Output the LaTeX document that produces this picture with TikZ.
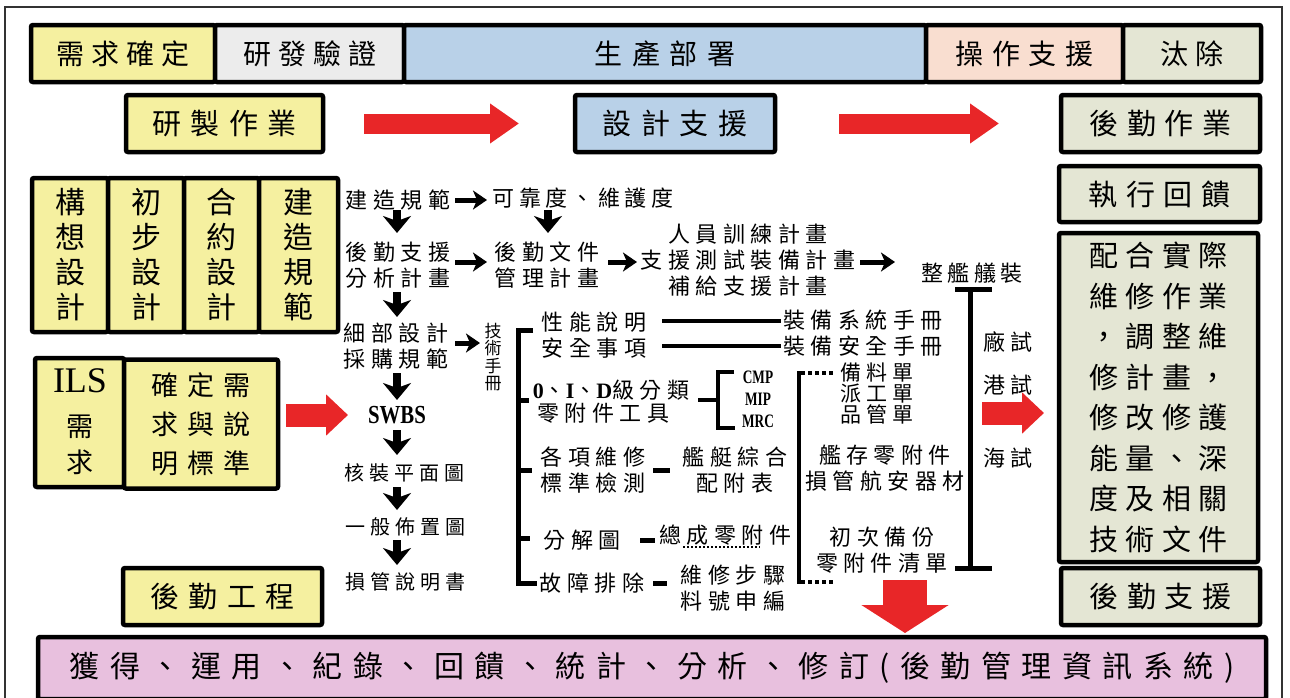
\documentclass[tikz,border=0pt]{standalone}
\usepackage{fontspec}
\usepackage{graphicx}
\setmainfont{Liberation Serif}
\newfontfamily\cjk{Noto Sans CJK TC}
\newfontfamily\lser{Liberation Serif}
\usetikzlibrary{arrows.meta}
\definecolor{cyel}{RGB}{245,240,160}
\definecolor{cgry}{RGB}{236,236,236}
\definecolor{cblu}{RGB}{185,209,232}
\definecolor{cpch}{RGB}{249,222,208}
\definecolor{cgrn}{RGB}{228,230,212}
\definecolor{cpnk}{RGB}{232,192,222}
\definecolor{cred}{RGB}{232,38,40}
\newcommand\cjf[3]{\fontsize{#1}{#2}\cjk\addfontfeature{LetterSpace=#3}}
\begin{document}
\begin{tikzpicture}[x=1pt,y=-1pt,
  box/.style={draw=black, line width=4.5pt, rounded corners=2pt, inner sep=0pt, outer sep=0pt, align=center},
  tn/.style={inner sep=0pt, outer sep=0pt, align=center},
  mid/.style={tn, font=\cjf{22}{26}{25}},
  sml/.style={tn, font=\cjf{20}{20}{25}},
  dar/.style={line width=8pt, -{Stealth[length=17pt,width=28pt,inset=5pt]}},
  harr/.style={line width=5pt, -{Stealth[length=14pt,width=19pt,inset=4pt]}},
  thk/.style={line width=4.5pt},
  redA/.style={cred, line width=20pt, -{Triangle[length=29pt,width=38pt]}},
  redB/.style={cred, line width=23pt, -{Triangle[length=22pt,width=40pt]}},
  redC/.style={cred, line width=44pt, -{Triangle[length=28pt,width=86pt]}}
]
\useasboundingbox (0,0) rectangle (1290,697);
\fill[white] (0,0) rectangle (1290,697);
\draw[line width=2pt, black!80] (5,7) rectangle (1282,720);

% top bar
\node[box, fill=cyel, minimum width=184pt, minimum height=57pt, font=\cjf{28}{28}{25}] (b1) at (123,53.5) {需求確定};
\node[box, fill=cgry, minimum width=189pt, minimum height=57pt, font=\cjf{28}{28}{25}] (b2) at (309.5,53.5) {研發驗證};
\node[box, fill=cblu, minimum width=522pt, minimum height=57pt, font=\cjf{28}{28}{35}] (b3) at (665,53.5) {生產部署};
\node[box, fill=cpch, minimum width=197pt, minimum height=57pt, font=\cjf{28}{28}{30}] (b4) at (1024.5,53.5) {操作支援};
\node[box, fill=cgrn, minimum width=138pt, minimum height=57pt, font=\cjf{28}{28}{25}] (b5) at (1192,53.5) {汰除};

% second row
\node[box, fill=cyel, minimum width=197pt, minimum height=57pt, font=\cjf{29}{29}{33}] (yz) at (224.5,123.5) {研製作業};
\node[box, fill=cblu, minimum width=200pt, minimum height=57pt, font=\cjf{29}{29}{33}] (sj) at (675,123.5) {設計支援};
\node[box, fill=cgrn, minimum width=199pt, minimum height=57pt, font=\cjf{29}{29}{30}] (hq) at (1160.5,123.5) {後勤作業};
\node[box, fill=cgrn, minimum width=201pt, minimum height=56pt, font=\cjf{29}{29}{30}] (zx) at (1159.5,194) {執行回饋};
\node[box, fill=cgrn, minimum width=199pt, minimum height=329pt, font=\cjf{29}{40.5}{25}] (ph) at (1158.5,397.5) {配合實際\\維修作業\\，調整維\\修計畫，\\修改修護\\能量、深\\度及相關\\技術文件};
\node[box, fill=cgrn, minimum width=199pt, minimum height=57pt, font=\cjf{29}{29}{30}] (hz) at (1160.5,596.5) {後勤支援};

% left boxes
\node[box, fill=cyel, minimum width=76pt, minimum height=154pt, font=\cjf{30}{35}{0}] (v1) at (70,255) {構\\想\\設\\計};
\node[box, fill=cyel, minimum width=76pt, minimum height=154pt, font=\cjf{30}{35}{0}] (v2) at (146,255) {初\\步\\設\\計};
\node[box, fill=cyel, minimum width=75pt, minimum height=154pt, font=\cjf{30}{35}{0}] (v3) at (221.5,255) {合\\約\\設\\計};
\node[box, fill=cyel, minimum width=79pt, minimum height=154pt, font=\cjf{30}{35}{0}] (v4) at (298.5,255) {建\\造\\規\\範};
\node[box, fill=cyel, minimum width=89pt, minimum height=129pt] (ils) at (79.5,422.5) {};
\node[tn, font=\fontsize{36}{36}\lser] (ilsA) at (80,381) {ILS};
\node[tn, font=\cjf{27}{36}{0}] (ilsB) at (80,445) {需\\求};
\node[box, fill=cyel, minimum width=154pt, minimum height=129pt, font=\cjf{27}{39}{33}] (qd) at (201,424) {確定需\\求與說\\明標準};
\node[box, fill=cyel, minimum width=199pt, minimum height=57pt, font=\cjf{29}{29}{33}] (hg) at (222.5,596.5) {後勤工程};
\node[box, fill=cpnk, minimum width=1228pt, minimum height=62pt, font=\cjf{30}{30}{35}] (pk) at (652,668) {獲得、運用、紀錄、回饋、統計、分析、修訂(後勤管理資訊系統)};

% middle texts
\node[mid] (t1) at (398,200) {建造規範};
\node[mid] (t2) at (398,265) {後勤支援\\分析計畫};
\node[mid] (t3) at (396,346) {細部設計\\採購規範};
\node[tn] (t4) at (397,415) {\scalebox{0.8}[1]{\fontsize{26}{26}\lser\bfseries SWBS}};
\node[sml] (t5) at (404,473) {核裝平面圖};
\node[sml] (t6) at (405,527) {一般佈置圖};
\node[sml] (t7) at (405,582) {損管說明書};
\node[tn, font=\cjf{22}{26}{20}] (t8) at (583,198) {可靠度、維護度};
\node[mid] (t9) at (547,265) {後勤文件\\管理計畫};
\node[mid] (t10) at (748,260) {人員訓練計畫\\支援測試裝備計畫\\補給支援計畫};
\node[tn, font=\cjf{22}{26}{20}] (t11) at (972,273) {整艦艤裝};
\node[tn, font=\cjf{17}{17.5}{0}] (t12) at (493,357) {技\\術\\手\\冊};
\node[mid] (t13) at (594,322) {性能說明};
\node[mid] (t14) at (594,348) {安全事項};
\node[mid] (t15) at (863,320) {裝備系統手冊};
\node[mid] (t16) at (863,346) {裝備安全手冊};
\node[mid] (t17) at (611,390) {{\lser\bfseries 0}、{\lser\bfseries I}、{\lser\bfseries D}級分類};
\node[mid] (t18) at (603,413) {零附件工具};
\node[tn] (t19a) at (758,377) {\scalebox{0.7}[1.0]{\fontsize{19}{19}\lser\bfseries CMP}};
\node[tn] (t19b) at (758,399) {\scalebox{0.7}[1.0]{\fontsize{19}{19}\lser\bfseries MIP}};
\node[tn] (t19c) at (758,421) {\scalebox{0.7}[1.0]{\fontsize{19}{19}\lser\bfseries MRC}};
\node[tn, font=\cjf{21}{21}{22}] (t20) at (877,394) {備料單\\派工單\\品管單};
\node[mid] (t21) at (593,470) {各項維修\\標準檢測};
\node[mid] (t22) at (735,470) {艦艇綜合\\配附表};
\node[mid] (t23) at (885,468) {艦存零附件\\損管航安器材};
\node[mid] (t24) at (582,540) {分解圖};
\node[mid] (t25) at (725,535) {總成零附件};
\node[mid] (t26) at (592,583) {故障排除};
\node[mid] (t27) at (733,588) {維修步驟\\料號申編};
\node[mid] (t28) at (882,550) {初次備份\\零附件清單};
\node[mid] (t29a) at (1008,342) {廠試};
\node[mid] (t29b) at (1008,385) {港試};
\node[mid] (t29c) at (1008,458) {海試};

% black arrows
\draw[dar] ([shift={(-1,10)}]t1.center) -- ([shift={(-1,-32)}]t2.center);
\draw[dar] ([shift={(-1,27)}]t2.center) -- ([shift={(1,-29)}]t3.center);
\draw[dar] ([shift={(1,27)}]t3.center) -- ([shift={(0,-15)}]t4.center);
\draw[dar] ([shift={(0,15)}]t4.center) -- ([shift={(-7,-18)}]t5.center);
\draw[dar] ([shift={(-7,14)}]t5.center) -- ([shift={(-8,-17)}]t6.center);
\draw[dar] ([shift={(-8,13)}]t6.center) -- ([shift={(-8,-17)}]t7.center);
\draw[dar] ([shift={(-35,12)}]t8.center) -- ([shift={(1,-32)}]t9.center);
\draw[harr] ([shift={(57,0)}]t1.center) -- ([shift={(-96,2)}]t8.center);
\draw[harr] ([shift={(57,-3)}]t2.center) -- ([shift={(-60,-3)}]t9.center);
\draw[harr] ([shift={(61,-3)}]t9.center) -- ([shift={(-111,2)}]t10.center);
\draw[harr] ([shift={(112,2)}]t10.center) -- ([shift={(-77,-11)}]t11.center);
\draw[harr] ([shift={(59,-3)}]t3.center) -- ([shift={(-13,-14)}]t12.center);

% lines to manuals
\draw[thk] ([shift={(68,-1)}]t13.center) -- ([shift={(-82,1)}]t15.center);
\draw[thk] ([shift={(68,-2)}]t14.center) -- ([shift={(-82,0)}]t16.center);

% big bracket
\coordinate (brT) at (518,330);
\coordinate (brB) at (518,583);
\draw[line width=5pt] (533,330) -- (brT) -- (brB) -- (537,583);
\draw[line width=5pt] (518,400) -- (529,400);
\draw[line width=5pt] (518,470) -- (532,470);
\draw[line width=5pt] (518,538) -- (530,538);
% dashes
\draw[line width=5pt] ([shift={(60,0)}]t21.center) -- ([shift={(77,0)}]t21.center);
\draw[line width=5pt] ([shift={(58,0)}]t24.center) -- ([shift={(73,0)}]t24.center);
\draw[line width=5pt] ([shift={(61,0)}]t26.center) -- ([shift={(75,0)}]t26.center);
\draw[line width=1.6pt, dash pattern=on 2pt off 2pt] (683,547) -- (760,547);

% E bracket
\draw[line width=4pt] (698,400) -- (718,400);
\draw[line width=4pt] (734,372) -- (718,372) -- (718,428) -- (735,428);

% dotted bracket
\draw[line width=4pt] (799,371) -- (799,584);
\draw[line width=4pt, dash pattern=on 4pt off 3pt] (801,373) -- (834,373);
\draw[line width=4pt, dash pattern=on 4pt off 3pt] (801,582) -- (834,582);

% I beam
\coordinate (ibT) at (970,289);
\coordinate (ibB) at (970,568);
\draw[line width=5pt] (955,289) -- (992,289);
\draw[line width=5pt] (ibT) -- (ibB);
\draw[line width=5pt] (955,568) -- (992,568);

% red arrows
\draw[redA] ([xshift=41pt]yz.east) -- ([xshift=-56pt]sj.west);
\draw[redA] ([xshift=64pt]sj.east) -- ([xshift=-62pt]hq.west);
\draw[redB] ([shift={(8,-9)}]qd.east) -- ([shift={(-49,0)}]t4.center);
\draw[redB] ([shift={(12,124)}]ibT) -- ([shift={(-15,15.5)}]ph.west);
\draw[redC] ([shift={(23,30)}]t28.center) -- ([shift={(253,-4)}]pk.north);
\end{tikzpicture}
\end{document}
